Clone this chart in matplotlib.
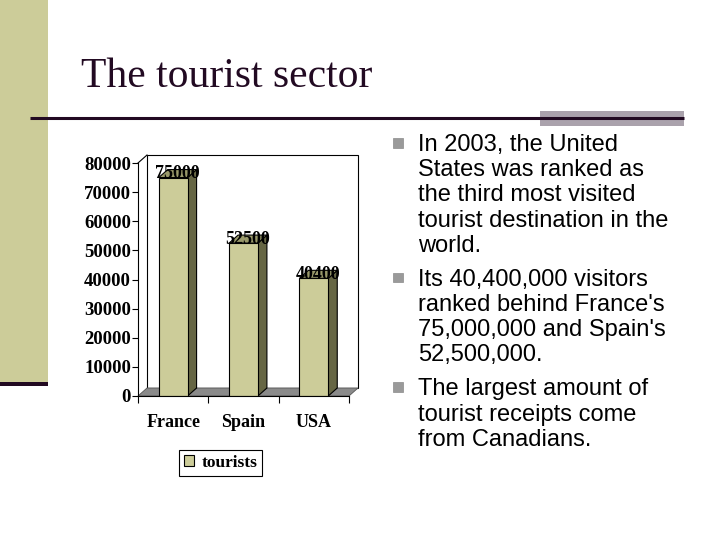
import matplotlib
matplotlib.use("Agg")
import matplotlib.pyplot as plt
from matplotlib.patches import Rectangle, Polygon

# ---- data ----
categories = ["France", "Spain", "USA"]
tourists = [75000, 52500, 40400]
y_ticks = [0, 10000, 20000, 30000, 40000, 50000, 60000, 70000, 80000]
series_name = "tourists"
title = "The tourist sector"
bullets = [
    ["In 2003, the United", "States was ranked as", "the third most visited",
     "tourist destination in the", "world."],
    ["Its 40,400,000 visitors", "ranked behind France's", "75,000,000 and Spain's",
     "52,500,000."],
    ["The largest amount of", "tourist receipts come", "from Canadians."],
]

# ---- styles ----
W, H = 720, 540
SERIF = "Liberation Serif"
SANS = "Liberation Sans"
OLIVE = "#CCCC99"
SIDE = "#666644"
TOP = "#99996A"
DARK = "#220A22"

fig = plt.figure(figsize=(7.2, 5.4), dpi=100)
fig.patch.set_facecolor("white")

# decoration layer in pixel coordinates
bg = fig.add_axes([0, 0, 1, 1])
bg.set_xlim(0, W)
bg.set_ylim(H, 0)
bg.axis("off")
bg.add_patch(Rectangle((0, 0), 48, 382, facecolor=OLIVE, edgecolor="none"))
bg.add_patch(Rectangle((0, 382), 48, 4, facecolor=DARK, edgecolor="none"))
bg.add_patch(Rectangle((540, 111), 144, 15, facecolor="#AAA2AC", edgecolor="none"))
bg.plot([30, 684], [117.5, 117.5], color=DARK, lw=2.2, solid_capstyle="butt")
bg.text(81, 87, title, family=SERIF, fontsize=30, color=DARK, va="baseline", ha="left")

# right text
y = 151
for bi, para in enumerate(bullets):
    bg.add_patch(Rectangle((393, y - 13), 10, 9.5, facecolor="#9A9A9A", edgecolor="#8A8A8A", lw=0.5))
    for li, line in enumerate(para):
        bg.text(418, y, line, family=SANS, fontsize=17, color="black", va="baseline", ha="left")
        if li < len(para) - 1:
            y += 25.2
    y += 34

# ---- chart ----
x0, y0, pw, ph = 138, 396, 211, 233
ax = fig.add_axes([x0 / W, (H - y0) / H, pw / W, ph / H])
ax.set_xlim(0, len(categories))
ax.set_ylim(0, 80000)
ax.patch.set_alpha(0)
DX = 9 / (pw / len(categories))
DY = 8 / (ph / 80000)
n = len(categories)

# back wall
ax.add_patch(Polygon([(DX, DY), (DX, 80000 + DY), (n + DX, 80000 + DY), (n + DX, DY)],
                     closed=True, facecolor="white", edgecolor="black", lw=0.8, clip_on=False, zorder=1))
ax.plot([0, DX], [80000, 80000 + DY], color="black", lw=0.8, clip_on=False, zorder=1)
# floor
ax.add_patch(Polygon([(0, 0), (DX, DY), (n + DX, DY), (n, 0)], closed=True,
                     facecolor="#8A8A8A", edgecolor="#555555", lw=0.6, clip_on=False, zorder=2))

bw = 0.41
xs = [i + 0.5 for i in range(n)]
bars = ax.bar(xs, tourists, width=bw, color=OLIVE, edgecolor="black", lw=0.8, zorder=4,
              label=series_name)
for x, v in zip(xs, tourists):
    r = x + bw / 2
    l = x - bw / 2
    ax.add_patch(Polygon([(r, 0), (r + DX, DY), (r + DX, v + DY), (r, v)], closed=True,
                         facecolor=SIDE, edgecolor="black", lw=0.8, zorder=3, clip_on=False))
    ax.add_patch(Polygon([(l, v), (l + DX, v + DY), (r + DX, v + DY), (r, v)], closed=True,
                         facecolor=TOP, edgecolor="black", lw=0.8, zorder=5, clip_on=False))
    ax.text(x + DX / 2, v + DY / 2, f"{v}", family=SERIF, fontsize=13, fontweight="bold",
            ha="center", va="center", zorder=6, clip_on=False)

for s in ["top", "right"]:
    ax.spines[s].set_visible(False)
ax.spines["left"].set_linewidth(0.8)
ax.spines["bottom"].set_linewidth(0.8)
ax.spines["left"].set_zorder(6)
ax.spines["bottom"].set_zorder(6)
ax.set_yticks(y_ticks)
ax.set_yticklabels([str(t) for t in y_ticks], family=SERIF, fontsize=13.5, fontweight="bold")
ax.tick_params(axis="y", direction="out", length=4, width=0.8, pad=1)
ax.set_xticks(range(n + 1))
ax.set_xticklabels([])
ax.tick_params(axis="x", which="major", direction="out", length=5, width=0.8)
ax.set_xticks(xs, minor=True)
ax.set_xticklabels(categories, minor=True, family=SERIF, fontsize=13, fontweight="bold")
ax.tick_params(axis="x", which="minor", length=0, pad=13)

leg = fig.legend(handles=[bars], labels=[series_name], loc="center",
                 bbox_to_anchor=(220.5 / W, 1 - 463 / H),
                 prop={"family": SERIF, "size": 12.5, "weight": "bold"},
                 frameon=True, fancybox=False, edgecolor="black", framealpha=1,
                 handlelength=0.6, handleheight=0.6, handletextpad=0.4,
                 borderpad=0.3, borderaxespad=0)
leg.get_frame().set_linewidth(0.8)

fig.savefig("out.png", dpi=100)
